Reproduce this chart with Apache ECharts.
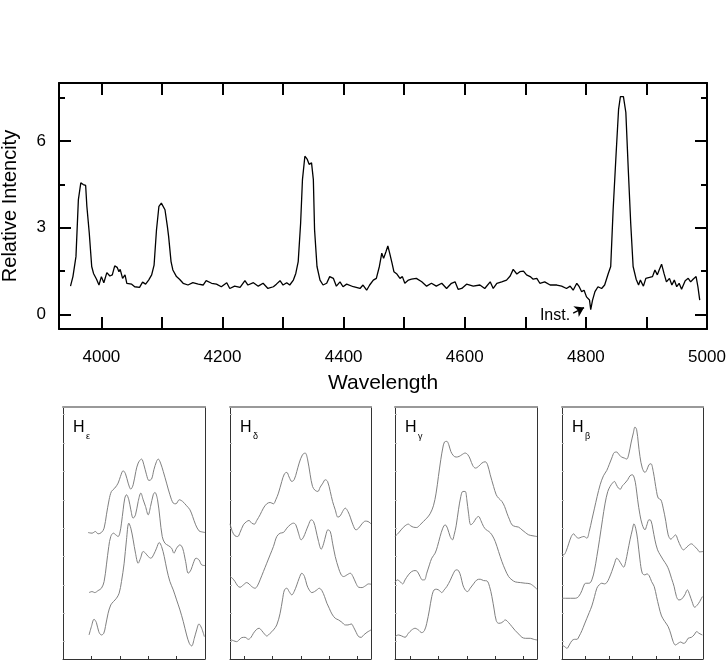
<!DOCTYPE html>
<html><head><meta charset="utf-8">
<script src="https://cdn.jsdelivr.net/npm/echarts@6/dist/echarts.min.js"></script>
<style>html,body{margin:0;padding:0;background:#fff}#c{width:727px;height:664px}</style>
</head><body><div id="c"></div>
<script>
// ---------- main spectrum ----------
const wavelength = [3949,3953,3958,3962,3966,3970,3974,3976,3980,3984,3987,3992,3996,4000,4004,4009,4014,4018,4022,4026,4029,4031,4035,4039,4042,4050,4055,4063,4068,4073,4078,4083,4087,4091,4095,4099,4102,4105,4109,4111,4115,4118,4124,4129,4135,4143,4151,4160,4168,4173,4182,4190,4198,4207,4212,4220,4229,4237,4242,4251,4259,4267,4275,4284,4289,4295,4300,4306,4311,4317,4321,4325,4329,4332,4336,4340,4343,4347,4350,4352,4356,4361,4366,4372,4377,4383,4388,4394,4399,4405,4416,4427,4432,4438,4443,4449,4454,4459,4463,4466,4470,4473,4476,4480,4483,4488,4493,4497,4501,4507,4512,4520,4529,4537,4545,4553,4562,4570,4578,4584,4589,4595,4603,4614,4625,4633,4642,4647,4653,4661,4669,4675,4680,4686,4691,4697,4702,4708,4713,4719,4724,4732,4741,4752,4760,4768,4774,4779,4785,4789,4793,4797,4801,4806,4808,4811,4815,4820,4826,4831,4837,4841,4845,4850,4854,4857,4862,4866,4870,4874,4878,4883,4887,4890,4895,4899,4905,4910,4914,4918,4921,4925,4929,4933,4938,4942,4946,4950,4954,4958,4964,4969,4973,4977,4982,4985,4988];
const intensity = [0.98,1.31,2.00,3.97,4.55,4.49,4.46,3.74,2.81,1.66,1.42,1.22,1.02,1.31,1.10,1.45,1.33,1.37,1.68,1.63,1.48,1.56,1.25,1.37,1.08,1.05,0.96,0.94,1.12,1.05,1.19,1.37,1.71,2.93,3.74,3.85,3.91,3.62,3.04,2.70,1.83,1.54,1.31,1.22,1.08,1.02,1.10,1.05,1.02,1.17,1.08,1.05,0.96,1.10,0.90,0.98,0.94,1.17,1.02,1.10,0.98,1.08,0.90,0.96,1.05,1.17,1.02,1.10,1.02,1.19,1.42,1.83,3.16,4.66,5.47,5.36,5.19,5.24,4.66,2.93,1.66,1.19,1.02,1.08,1.31,1.25,0.98,1.13,0.96,1.05,0.96,0.90,1.02,0.84,1.02,1.19,1.25,1.66,2.12,1.94,2.18,2.37,2.12,1.77,1.48,1.40,1.25,1.31,1.08,1.19,1.22,1.25,1.13,0.98,1.08,0.98,1.08,0.90,1.08,1.13,0.87,0.90,1.05,0.98,1.02,0.90,1.13,0.90,1.08,1.13,1.19,1.33,1.56,1.40,1.48,1.50,1.37,1.31,1.22,1.25,1.08,1.13,1.02,1.02,0.98,0.90,0.98,0.84,1.08,0.96,0.79,0.84,0.61,0.50,0.17,0.50,0.79,0.96,0.90,1.02,1.42,1.66,3.62,5.59,7.09,7.53,7.53,6.98,5.01,3.16,1.66,1.22,1.02,1.19,0.98,1.25,1.28,1.31,1.54,1.37,1.54,1.74,1.42,1.13,1.25,1.02,1.19,0.96,1.08,0.87,1.17,1.25,1.13,1.22,1.31,0.96,0.50];
const xTickLabels = [4000,4200,4400,4600,4800,5000];
const xTickValues = [4000,4100,4200,4300,4400,4500,4600,4700,4800,4900];
const yTickLabels = [0,3,6];
const yMinorTicks = [1.5,4.5,7.5];
const instLabel = [4749,-0.04];
const instArrow = [[4779,0.05],[4797,0.24]];

// ---------- line profile panels (relative units) ----------
const panelSymbols = ['ε','δ','γ','β'];
const hEps1 = [[75,327],[87,325],[97,330],[105,323],[115,327],[123,340],[130,380],[138,425],[145,450],[155,460],[165,475],[172,495],[180,512],[187,503],[195,475],[203,457],[210,470],[218,510],[225,535],[235,547],[242,530],[250,500],[257,483],[265,487],[272,515],[280,540],[285,547],[292,535],[300,510],[310,475],[320,440],[330,415],[338,413],[348,425],[358,420],[370,407],[380,395],[388,375],[397,350],[407,332],[415,329],[425,327]];
const hEps2 = [[78,147],[87,150],[95,147],[105,153],[115,160],[123,180],[130,230],[137,285],[143,315],[151,325],[158,320],[165,315],[170,325],[175,355],[180,395],[185,430],[190,440],[197,425],[203,395],[210,370],[217,380],[225,420],[233,445],[240,425],[247,405],[255,380],[262,405],[270,440],[275,447],[283,425],[290,370],[297,315],[305,295],[315,288],[325,280],[332,265],[340,280],[350,290],[358,280],[367,240],[375,205],[383,215],[390,235],[398,250],[407,245],[415,230],[425,228]];
const hEps3 = [[78,20],[85,45],[93,67],[100,57],[107,30],[115,20],[122,25],[127,45],[135,85],[143,110],[151,120],[160,130],[168,145],[175,180],[183,235],[190,305],[197,355],[203,340],[210,305],[217,265],[225,235],[232,250],[240,270],[247,265],[255,255],[263,250],[271,260],[280,280],[288,297],[295,285],[303,255],[311,215],[320,180],[330,155],[340,125],[350,95],[360,60],[370,20],[378,-5],[385,-13],[393,10],[400,35],[407,53],[415,40],[423,15]];
const hDel1 = [[-42,353],[-35,330],[-27,317],[-19,315],[-12,327],[-2,350],[8,360],[15,363],[23,355],[31,352],[38,363],[48,380],[58,400],[68,413],[78,417],[88,413],[95,425],[103,445],[113,480],[121,503],[128,507],[135,493],[143,480],[150,485],[158,510],[165,535],[175,560],[183,565],[190,547],[198,500],[205,465],[213,453],[221,450],[228,463],[236,475],[243,485],[250,480],[258,450],[265,420],[273,395],[281,373],[288,377],[295,390],[303,400],[311,390],[318,373],[326,350],[335,335],[343,340],[353,353],[363,361],[371,360],[380,353]];
const hDel2 = [[-42,195],[-35,190],[-27,180],[-19,167],[-12,163],[-2,170],[8,177],[15,173],[23,165],[33,160],[40,167],[48,185],[58,210],[68,235],[78,260],[88,285],[98,315],[108,325],[118,327],[128,340],[138,350],[148,355],[155,350],[163,325],[171,305],[178,313],[185,330],[193,350],[201,365],[208,360],[215,335],[223,300],[231,277],[238,293],[245,320],[251,335],[258,330],[265,295],[273,255],[283,220],[291,200],[298,195],[308,200],[318,205],[326,195],[335,175],[343,163],[353,162],[363,167],[373,173],[380,172]];
const hDel3 = [[-42,7],[-32,3],[-22,0],[-15,5],[-7,12],[3,13],[13,7],[21,13],[28,25],[38,37],[45,40],[53,33],[61,23],[68,17],[78,25],[88,35],[98,50],[108,85],[115,125],[121,155],[128,160],[135,150],[143,140],[150,150],[158,170],[165,190],[173,205],[181,195],[188,170],[195,155],[203,147],[211,150],[218,155],[225,160],[233,153],[241,135],[248,115],[255,100],[263,83],[273,70],[283,65],[293,58],[303,50],[311,50],[321,53],[328,43],[336,27],[343,15],[351,13],[358,20],[368,28],[380,35]];
const hGam1 = [[-45,315],[-35,325],[-25,337],[-15,347],[-5,352],[2,347],[10,343],[20,342],[30,350],[40,360],[50,370],[60,383],[70,407],[78,445],[85,495],[92,545],[98,580],[103,598],[110,600],[116,590],[122,570],[130,557],[138,553],[147,555],[155,560],[165,565],[173,560],[180,547],[188,527],[196,520],[205,525],[215,535],[225,539],[232,530],[240,500],[250,465],[258,440],[265,430],[275,420],[283,405],[290,385],[298,365],[305,350],[315,345],[325,343],[335,335],[345,327],[355,320],[368,317],[380,315]];
const hGam2 = [[-45,177],[-38,185],[-30,180],[-22,173],[-15,185],[-5,200],[5,210],[15,213],[22,210],[30,195],[37,185],[43,185],[50,205],[58,230],[65,250],[75,265],[82,285],[90,315],[98,340],[105,350],[112,340],[120,315],[127,305],[132,320],[138,347],[145,395],[152,435],[158,450],[165,450],[170,425],[175,385],[182,350],[190,357],[198,370],[205,375],[212,363],[220,345],[228,335],[236,330],[245,320],[255,300],[265,270],[275,240],[285,215],[295,195],[305,185],[315,179],[330,177],[345,175],[360,173],[380,157]];
const hGam3 = [[-45,15],[-35,20],[-25,17],[-15,13],[-5,25],[5,35],[15,40],[25,35],[35,27],[43,33],[50,55],[58,95],[65,135],[72,155],[80,157],[88,153],[95,147],[102,155],[110,165],[120,183],[130,205],[138,215],[145,213],[152,195],[158,170],[165,155],[172,150],[180,160],[190,173],[200,185],[210,187],[220,183],[230,182],[238,165],[245,135],[252,95],[258,63],[265,55],[275,57],[285,65],[295,57],[305,45],[315,33],[325,23],[335,13],[345,10],[360,10],[370,7],[380,5]];
const hBet1 = [[0,265],[5,260],[12,270],[20,293],[28,315],[35,323],[42,315],[50,310],[58,313],[66,315],[75,310],[82,330],[90,365],[98,400],[106,435],[115,470],[125,497],[135,513],[142,530],[150,550],[158,567],[165,568],[172,560],[180,553],[188,550],[195,547],[202,565],[208,595],[215,625],[220,643],[225,635],[230,595],[235,555],[242,520],[250,507],[256,515],[262,530],[268,533],[275,510],[280,480],[285,450],[290,430],[298,425],[305,400],[313,360],[320,320],[328,307],[335,313],[342,320],[350,303],[358,285],[366,275],[373,280],[380,287],[390,293],[400,285],[408,277],[415,269],[425,270]];
const hBet2 = [[0,130],[10,130],[25,130],[40,130],[50,135],[60,153],[68,173],[75,175],[82,175],[90,185],[98,215],[105,255],[113,305],[122,365],[130,415],[138,450],[145,465],[152,475],[158,480],[164,470],[170,460],[176,457],[182,467],[190,475],[198,485],[205,497],[212,500],[218,490],[223,465],[228,425],[235,380],[242,350],[250,335],[256,350],[262,365],[268,363],[274,337],[280,305],[288,275],[296,260],[305,245],[315,230],[322,215],[330,190],[338,165],[345,135],[352,125],[360,127],[370,140],[378,155],[385,140],[392,120],[400,103],[408,110],[415,120],[423,135]];
const hBet3 = [[0,-10],[8,-15],[15,-20],[22,-10],[30,3],[38,7],[45,7],[52,17],[60,33],[68,53],[75,70],[82,87],[90,107],[98,135],[105,160],[112,170],[120,175],[128,173],[135,177],[142,190],[150,210],[158,233],[165,250],[172,243],[180,230],[186,223],[192,240],[198,270],[205,305],[212,335],[217,353],[222,340],[228,305],[235,245],[242,205],[250,200],[256,203],[263,197],[270,180],[278,165],[285,135],[292,105],[300,77],[310,60],[320,45],[328,23],[335,0],[342,-10],[350,-5],[358,-1],[365,-5],[372,-3],[380,10],[390,13],[398,20],[406,30],[413,25],[423,20]];
const panelTraces = [[hEps1,hEps2,hEps3],[hDel1,hDel2,hDel3],[hGam1,hGam2,hGam3],[hBet1,hBet2,hBet3]];
const panelXRange = [[0,425],[-42,380],[-45,380],[0,425]];
const panelXTicks = [[85,170,255,340],[0,85,170,255,340],[0,85,170,255,340],[70.8,141.7,212.5,283.3,354.2]];
const panelYTicks = [0,85,170,255,340,425,510,595,680];

// ---------- layout ----------
const FONT = 'Liberation Sans, Arial, Helvetica, sans-serif';
const panelLeft = [63,230,395,562];
const panelWidth = [142,141,142,141];

const chart = echarts.init(document.getElementById('c'), null, {renderer:'canvas'});
const blk = {color:'#000', width:2};

const grids = [{left:59, right:20, top:83, bottom:335, outerBoundsMode:'none', containLabel:false}];
const xAxes = [
  {gridIndex:0, type:'value', min:3930, max:5000, position:'bottom',
   axisLine:{onZero:false, lineStyle:blk},
   axisTick:{inside:true, length:12, lineStyle:blk, customValues:xTickValues},
   axisLabel:{customValues:xTickLabels, formatter:v=>String(v), fontSize:17, color:'#000', margin:20, fontFamily:FONT},
   splitLine:{show:false}, name:'Wavelength', nameLocation:'middle', nameGap:44,
   nameTextStyle:{fontSize:21, color:'#000', fontFamily:FONT}},
  {gridIndex:0, type:'value', min:3930, max:5000, position:'top',
   axisLine:{onZero:false, lineStyle:blk},
   axisTick:{inside:true, length:12, lineStyle:blk, customValues:xTickValues},
   axisLabel:{show:false}, splitLine:{show:false}}
];
const yAxes = [
  {gridIndex:0, type:'value', min:-0.5, max:8, position:'left',
   axisLine:{show:true, onZero:false, lineStyle:blk},
   axisTick:{inside:true, length:12, lineStyle:blk, customValues:yTickLabels},
   axisLabel:{customValues:yTickLabels, formatter:v=>String(v), fontSize:17, color:'#000', margin:13, fontFamily:FONT},
   splitLine:{show:false}, name:'Relative Intencity', nameLocation:'middle', nameGap:39,
   nameTextStyle:{fontSize:20, color:'#000', fontFamily:FONT}},
  {gridIndex:0, type:'value', min:-0.5, max:8, position:'left',
   axisLine:{show:false, onZero:false},
   axisTick:{inside:true, length:6, lineStyle:blk, customValues:yMinorTicks},
   axisLabel:{show:false}, splitLine:{show:false}},
  {gridIndex:0, type:'value', min:-0.5, max:8, position:'right',
   axisLine:{show:true, onZero:false, lineStyle:blk},
   axisTick:{inside:true, length:12, lineStyle:blk, customValues:yTickLabels},
   axisLabel:{show:false}, splitLine:{show:false}},
  {gridIndex:0, type:'value', min:-0.5, max:8, position:'right',
   axisLine:{show:false, onZero:false},
   axisTick:{inside:true, length:6, lineStyle:blk, customValues:yMinorTicks},
   axisLabel:{show:false}, splitLine:{show:false}}
];
const series = [{
  type:'line', xAxisIndex:0, yAxisIndex:0, showSymbol:false, symbol:'none',
  data: wavelength.map((w,i)=>[w,intensity[i]]),
  lineStyle:{color:'#000', width:1.3}, animation:false, silent:true,
  markLine:{silent:true, symbol:['none','arrow'], symbolSize:9, animation:false,
    itemStyle:{color:'#000'},
    lineStyle:{color:'#000', width:1.3, type:'solid'}, label:{show:false},
    data:[[{coord:instArrow[0]},{coord:instArrow[1]}]]},
  markPoint:{silent:true, animation:false, symbol:'circle', symbolSize:1, itemStyle:{color:'transparent'},
    label:{show:true, position:'inside', formatter:'Inst.', fontSize:16, color:'#000', fontFamily:FONT},
    data:[{coord:instLabel}]}
}];
const graphics = [];
for (let p=0;p<4;p++){
  const gi = p+1;
  grids.push({left:panelLeft[p], width:panelWidth[p], top:407, height:252, outerBoundsMode:'none', containLabel:false});
  const xr = panelXRange[p];
  const dark = {color:'#333', width:1};
  xAxes.push({gridIndex:gi, type:'value', min:xr[0], max:xr[1], position:'bottom',
    axisLine:{onZero:false, lineStyle:dark},
    axisTick:{inside:true, length:3, lineStyle:dark, customValues:panelXTicks[p]},
    axisLabel:{show:false}, splitLine:{show:false}});
  xAxes.push({gridIndex:gi, type:'value', min:xr[0], max:xr[1], position:'top',
    axisLine:{onZero:false, lineStyle:{color:'#999', width:2}}, axisTick:{show:false},
    axisLabel:{show:false}, splitLine:{show:false}});
  yAxes.push({gridIndex:gi, type:'value', min:-52, max:703, position:'left',
    axisLine:{show:true, onZero:false, lineStyle:dark},
    axisTick:{inside:true, length:2, lineStyle:{color:'#bbb', width:1}, customValues:panelYTicks},
    axisLabel:{show:false}, splitLine:{show:false}});
  yAxes.push({gridIndex:gi, type:'value', min:-52, max:703, position:'right',
    axisLine:{show:true, onZero:false, lineStyle:dark}, axisTick:{show:false},
    axisLabel:{show:false}, splitLine:{show:false}});
  panelTraces[p].forEach(tr=>{
    series.push({type:'line', xAxisIndex:2*gi, yAxisIndex:4+2*p, data:tr, smooth:0.35,
      symbol:'none', showSymbol:false, lineStyle:{color:'#808080', width:1}, animation:false, silent:true});
  });
  graphics.push({type:'text', left:panelLeft[p]+10, top:420,
    style:{text:'H', font:'16px '+FONT, fill:'#000'}});
  graphics.push({type:'text', left:panelLeft[p]+23, top:432,
    style:{text:panelSymbols[p], font:'9px '+FONT, fill:'#000'}});
}
chart.setOption({
  backgroundColor:'#fff', animation:false,
  textStyle:{fontFamily:FONT},
  grid:grids, xAxis:xAxes, yAxis:yAxes, series:series, graphic:graphics
});
</script></body></html>
